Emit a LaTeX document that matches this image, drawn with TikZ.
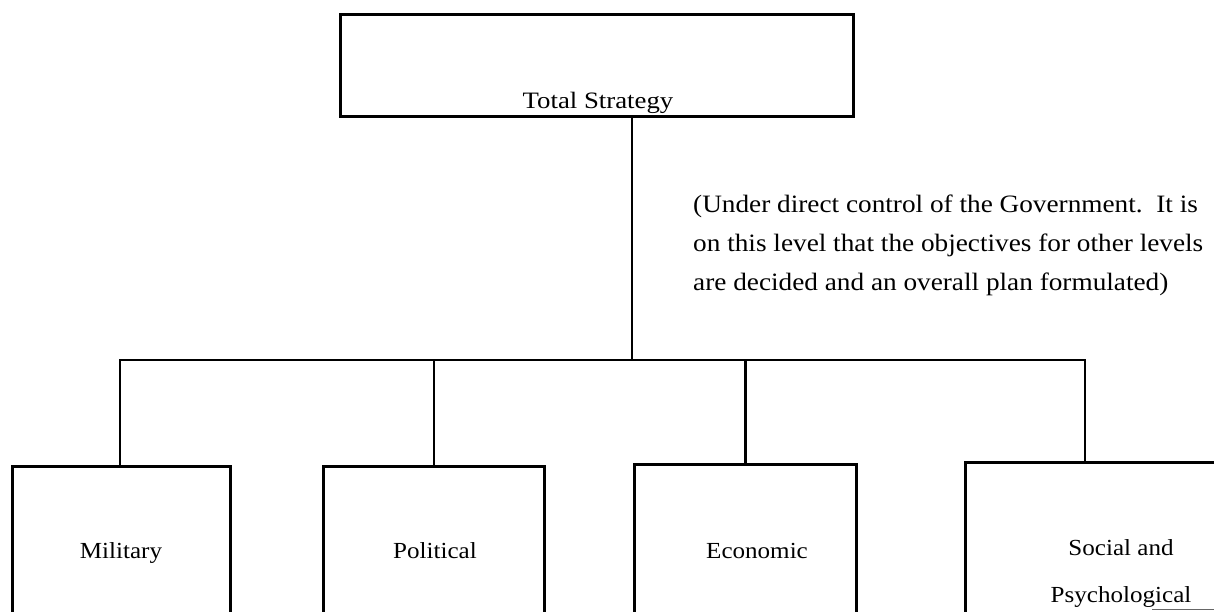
\documentclass[tikz,border=0pt]{standalone}
\usepackage{fontspec}
\setmainfont{Liberation Serif}[FakeStretch=1.09]
\newfontfamily\widefont{Liberation Serif}[FakeStretch=1.14]
\begin{document}
\begin{tikzpicture}[x=1pt,y=-1pt,
  box/.style={draw=black, line width=2.5pt, inner sep=0pt, anchor=north west, fill=none},
  conn/.style={draw=black, line width=2.5pt},
  lbl/.style={inner sep=0pt, anchor=base, font=\fontsize{23}{23}\selectfont},
  ann/.style={inner sep=0pt, anchor=base west, font=\fontsize{25}{25}\selectfont}]
\useasboundingbox (0,0) rectangle (1214,611);
\clip (0,0) rectangle (1214,611);
% boxes
\node[box, minimum width=513pt, minimum height=102pt] (top) at (339,13) {};
\node[box, minimum width=218pt, minimum height=200pt] (mil) at (11,465) {};
\node[box, minimum width=221pt, minimum height=200pt] (pol) at (322,465) {};
\node[box, minimum width=222pt, minimum height=200pt] (eco) at (633,463) {};
\node[box, minimum width=290pt, minimum height=200pt] (soc) at (964,461) {};
% labels
\node[lbl, font=\widefont\fontsize{23.5}{23.5}\selectfont] (tsl) at (598,108) {Total Strategy};
\node[lbl] (mill) at (121,558) {Military};
\node[lbl] (poll) at (435,558) {Political};
\node[lbl] (ecol) at (757,558) {Economic};
\node[lbl] (socl1) at (1121,555) {Social and};
\node[lbl] (socl2) at (1121,602) {Psychological};
% annotation
\node[ann] (ann1) at (693,212) {(Under direct control of the Government.\ \ It is};
\node[ann] (ann2) at (693,251) {on this level that the objectives for other levels};
\node[ann] (ann3) at (693,290) {are decided and an overall plan formulated)};
% connectors
\coordinate (trunk) at (632,360);
\coordinate (busL) at (120,360);
\coordinate (busR) at (1085,360);
\draw[conn] (top.south -| trunk) -- (trunk);
\draw[conn, line cap=rect] (mil.north -| busL) -- (busL) -- (busR) -- (busR |- soc.north);
\draw[conn] (pol.north) -- (pol.north |- busL);
\draw[conn] (eco.north) -- (eco.north |- busL);
% short rule at lower right
\coordinate (ruleA) at (1152,609);
\coordinate (ruleB) at (1214,609);
\draw[line width=1pt, black!60] (ruleA) -- (ruleB);
\end{tikzpicture}
\end{document}
